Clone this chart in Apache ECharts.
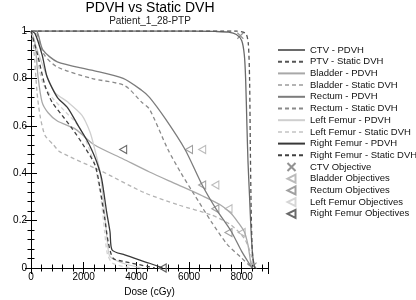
<!DOCTYPE html>
<html>
<head>
<meta charset="utf-8">
<script src="https://cdn.jsdelivr.net/npm/echarts@6/dist/echarts.min.js"></script>
<style>
html, body { margin: 0; padding: 0; background: #fff; }
#chart { width: 416px; height: 300px; }
</style>
</head>
<body>
<div id="chart"></div>
<script>
// dose (cGy), volume fraction
var ctvPdvh = [[0,1],[6000,1],[7000,0.998],[7500,0.995],[7800,0.985],[8000,0.96],[8100,0.9],[8150,0.8],[8200,0.6],[8240,0.45],[8300,0.3],[8360,0.15],[8420,0.05],[8480,0.01],[8520,0]];
var ptvStatic = [[0,1],[7800,1],[8150,0.99],[8250,0.95],[8300,0.8],[8330,0.5],[8360,0.25],[8400,0.08],[8450,0.02],[8500,0]];
var bladderPdvh = [[0,1],[150,0.95],[265,0.81],[420,0.7],[650,0.655],[1000,0.62],[1700,0.585],[2400,0.52],[3500,0.46],[4500,0.405],[5500,0.355],[6500,0.305],[7200,0.266],[7600,0.23],[7850,0.195],[8100,0.153],[8240,0.097],[8320,0.04],[8380,0]];
var bladderStatic = [[0,1],[100,0.93],[230,0.74],[340,0.645],[530,0.56],[850,0.52],[1100,0.49],[2650,0.41],[4300,0.318],[5600,0.266],[6850,0.224],[7600,0.181],[8100,0.125],[8360,0.055],[8420,0]];
var rectumPdvh = [[0,1],[200,1],[450,0.92],[1000,0.87],[2300,0.835],[3500,0.8],[4200,0.75],[4500,0.72],[5100,0.63],[5850,0.5],[6500,0.35],[7050,0.245],[7600,0.155],[8000,0.07],[8250,0.025],[8400,0]];
var rectumStatic = [[0,1],[150,1],[500,0.9],[1000,0.848],[2300,0.8],[3550,0.77],[4200,0.7],[4500,0.67],[5200,0.5],[5700,0.4],[6200,0.31],[6850,0.195],[7450,0.1],[8000,0.042],[8300,0.01],[8400,0]];
var lFemurPdvh = [[0,1],[300,0.9],[600,0.81],[910,0.74],[1400,0.7],[1930,0.645],[2240,0.574],[2400,0.51],[2620,0.406],[2780,0.25],[2900,0.111],[3000,0.048],[3500,0.02],[4200,0]];
var lFemurStatic = [[0,1],[200,0.9],[450,0.78],[800,0.72],[1300,0.66],[1800,0.6],[2150,0.52],[2450,0.42],[2650,0.3],[2800,0.15],[2900,0.06],[3100,0.02],[3800,0]];
var rFemurPdvh = [[0,1],[150,0.99],[420,0.9],[600,0.81],[800,0.76],[1020,0.717],[1400,0.675],[1780,0.603],[2120,0.54],[2300,0.5],[2490,0.449],[2680,0.378],[2870,0.238],[3000,0.153],[3080,0.076],[3560,0.055],[4500,0.02],[5000,0]];
var rFemurStatic = [[0,1],[250,0.9],[530,0.77],[800,0.7],[1175,0.645],[1550,0.59],[1950,0.525],[2430,0.435],[2620,0.336],[2800,0.21],[2930,0.111],[3120,0.041],[3560,0.027],[4500,0.005],[4700,0]];

var ctvObj = [[7950,0.98],[8450,0.01]];
var bladderObj = [[6500,0.5],[7000,0.35],[7500,0.25],[8000,0.15]];
var rectumObj = [[6000,0.5],[6500,0.35],[7000,0.25],[7500,0.15]];
var lFemurObj = [[5000,0]];
var rFemurObj = [[3500,0.5],[5000,0]];

var FONT = 'Liberation Sans, Arial, sans-serif';
var triPath = 'path://M10,0L0,5L10,10Z';
var crossPath = 'path://M0,0L10,10M0,10L10,0';

var legendNames = [];
function line(name, data, color, dashed) {
  legendNames.push({ name: name, itemStyle: { opacity: 0 } });
  return {
    name: name, type: 'line', data: data, symbol: 'none', smooth: 0.25,
    xAxisIndex: 0, yAxisIndex: 0,
    lineStyle: { color: color, width: 1.3, type: dashed ? [4, 3] : 'solid' },
    itemStyle: { color: color }
  };
}
function marks(name, data, color, sym) {
  legendNames.push({ name: name });
  return {
    name: name, type: 'scatter', data: data, symbol: sym,
    symbolSize: sym === crossPath ? [6, 6] : [7, 8],
    xAxisIndex: 0, yAxisIndex: 0,
    itemStyle: { color: 'rgba(0,0,0,0)', borderColor: color, borderWidth: 1.1 }
  };
}
function xAx(pos, interval, len, main) {
  return {
    type: 'value', min: 0, max: 9000, interval: interval, position: pos,
    axisLine: { show: main, lineStyle: { color: '#000', width: 1 } },
    axisTick: { show: true, inside: true, length: len, lineStyle: { color: '#000' } },
    axisLabel: {
      show: main && pos === 'bottom', margin: 4, color: '#000', fontSize: 10, fontFamily: FONT,
      formatter: function (v) { return v === 9000 ? '' : String(v); }
    },
    splitLine: { show: false },
    name: main && pos === 'bottom' ? 'Dose (cGy)' : '',
    nameLocation: 'middle', nameGap: 19,
    nameTextStyle: { color: '#000', fontSize: 10, fontFamily: FONT }
  };
}
function yAx(pos, interval, len, main) {
  return {
    type: 'value', min: 0, max: 1, interval: interval, position: pos,
    axisLine: { show: main, lineStyle: { color: '#000', width: 1 } },
    axisTick: { show: true, inside: true, length: len, lineStyle: { color: '#000' } },
    axisLabel: { show: main && pos === 'left', margin: 4, color: '#000', fontSize: 10, fontFamily: FONT },
    splitLine: { show: false },
    name: main && pos === 'left' ? 'Volume' : '',
    nameLocation: 'middle', nameGap: 20, nameRotate: 90,
    nameTextStyle: { color: '#000', fontSize: 10, fontFamily: FONT }
  };
}

var series = [
  line('CTV - PDVH', ctvPdvh, '#6a6a6a', false),
  line('PTV - Static DVH', ptvStatic, '#555', true),
  line('Bladder - PDVH', bladderPdvh, '#a8a8a8', false),
  line('Bladder - Static DVH', bladderStatic, '#b4b4b4', true),
  line('Rectum - PDVH', rectumPdvh, '#7c7c7c', false),
  line('Rectum - Static DVH', rectumStatic, '#8a8a8a', true),
  line('Left Femur - PDVH', lFemurPdvh, '#cfcfcf', false),
  line('Left Femur - Static DVH', lFemurStatic, '#d2d2d2', true),
  line('Right Femur - PDVH', rFemurPdvh, '#383838', false),
  line('Right Femur - Static DVH', rFemurStatic, '#404040', true),
  marks('CTV Objective', ctvObj, '#777', crossPath),
  marks('Bladder Objectives', bladderObj, '#aaa', triPath),
  marks('Rectum Objectives', rectumObj, '#888', triPath),
  marks('Left Femur Objectives', lFemurObj, '#ccc', triPath),
  marks('Right Femur Objectives', rFemurObj, '#444', triPath)
];

var chart = echarts.init(document.getElementById('chart'));
chart.setOption({
  animation: false,
  backgroundColor: '#fff',
  textStyle: { fontFamily: FONT },
  title: {
    text: 'PDVH vs Static DVH', subtext: 'Patient_1_28-PTP',
    left: 150, textAlign: 'center', top: 0, padding: [1, 0, 0, 0], itemGap: 1,
    textStyle: { fontSize: 14, fontWeight: 'normal', color: '#000', fontFamily: FONT },
    subtextStyle: { fontSize: 10, color: '#222', fontFamily: FONT }
  },
  grid: { left: 31, top: 31, width: 237, height: 237, outerBoundsMode: 'none' },
  legend: {
    orient: 'vertical', left: 272, top: 40, selectedMode: false,
    itemWidth: 27, itemHeight: 8, itemGap: 1.7,
    data: legendNames,
    textStyle: { fontSize: 9.5, color: '#111', fontFamily: FONT }
  },
  xAxis: [xAx('bottom', 2000, 6, true), xAx('bottom', 400, 3.5, false), xAx('top', 2000, 6, true), xAx('top', 400, 3.5, false)],
  yAxis: [yAx('left', 0.2, 6, true), yAx('left', 0.04, 3.5, false), yAx('right', 0.2, 6, true), yAx('right', 0.04, 3.5, false)],
  series: series
});
</script>
</body>
</html>
